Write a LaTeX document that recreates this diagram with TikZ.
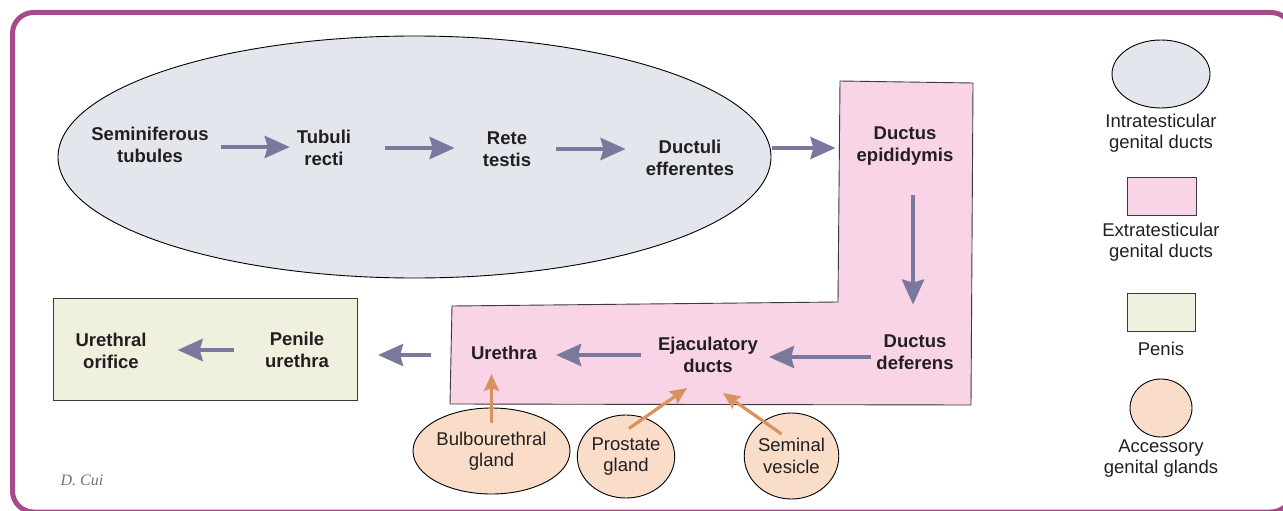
\documentclass[tikz,border=0pt]{standalone}
\usepackage{fontspec}
\setmainfont{Liberation Sans}
\newfontfamily\sigfont{Liberation Serif}
\usetikzlibrary{shapes.geometric,arrows.meta,calc}
\definecolor{framec}{HTML}{A64A8C}
\definecolor{testc}{HTML}{E3E6EC}
\definecolor{pinkc}{HTML}{F8D4E6}
\definecolor{greenc}{HTML}{EFF0DE}
\definecolor{glandc}{HTML}{FADDC9}
\definecolor{flowc}{HTML}{7A789C}
\definecolor{feedc}{HTML}{D8925E}
\definecolor{txt}{HTML}{231F20}
\definecolor{edgec}{HTML}{3A3A3A}
\begin{document}
\begin{tikzpicture}[x=1pt,y=-1pt,
  lbl/.style={font=\fontsize{18.5}{21.5}\selectfont\bfseries, align=center, inner sep=0pt, text=txt},
  leg/.style={font=\fontsize{18.5}{21}\selectfont, align=center, inner sep=0pt, text=txt},
  flow/.style={draw=flowc, line width=4.2pt, -{Stealth[length=25pt,width=22pt,inset=3pt]}},
  feed/.style={draw=feedc, line width=3.2pt, -{Stealth[length=17pt,width=15pt,inset=3pt]}},
  oval/.style={ellipse, draw=black, line width=0.9pt, inner sep=0pt},
  box/.style={rectangle, draw=edgec, line width=1pt, inner sep=0pt},
  gland/.style={ellipse, draw=black, line width=0.9pt, fill=glandc, inner sep=0pt, align=center, text=txt, font=\fontsize{18.5}{21.5}\selectfont}
]
\useasboundingbox (0,0) rectangle (1283,511);
% frame
\draw[framec, line width=5pt, rounded corners=21pt] (12.5,12.5) rectangle (1292,512);

% testis region
\node[oval, fill=testc, minimum width=713pt, minimum height=242pt] (testis) at (414.5,157) {};
% extratesticular L-shape
\draw[fill=pinkc, draw=edgec, line width=0.9pt] (840,81) -- (973,83) -- (971,405) -- (450,404) -- (452,306) -- (838,302) -- cycle;
% penis box
\node[box, fill=greenc, minimum width=304pt, minimum height=102pt] (penis) at (205,349) {};

% labels
\node[lbl] (sem) at (150,145) {Seminiferous\\tubules};
\node[lbl] (tub) at (324,148) {Tubuli\\recti};
\node[lbl] (rete) at (507,149) {Rete\\testis};
\node[lbl] (duct) at (690,158) {Ductuli\\efferentes};
\node[lbl] (epid) at (905,146) {Ductus\\epididymis};
\node[lbl] (def) at (915,352) {Ductus\\deferens};
\node[lbl] (ejac) at (708,355) {Ejaculatory\\ducts};
\node[lbl] (ureth) at (504,353) {Urethra};
\node[lbl] (pen) at (297,350) {Penile\\urethra};
\node[lbl] (orif) at (111,351) {Urethral\\orifice};

% glands
\node[gland, minimum width=157pt, minimum height=86pt] (bulbo) at (491.5,451) {Bulbourethral\\gland};
\node[gland, minimum width=92pt, minimum height=83pt] (prost) at (626,456.5) {Prostate\\gland};
\node[gland, minimum width=91pt, minimum height=86pt] (semv) at (791.5,456) {Seminal\\vesicle};

% main flow arrows
\draw[flow, shorten <=12pt, shorten >=7pt] ([yshift=-2pt]sem.east) -- ([yshift=-2pt]sem.east -| tub.west);
\draw[flow, shorten <=34pt, shorten >=28pt] (tub.east) -- (tub.east -| rete.west);
\draw[flow, shorten <=25pt, shorten >=20pt] (rete.east) -- (rete.east -| duct.west);
\draw[flow, shorten <=38pt, shorten >=21pt] ([yshift=10pt]duct.east) -- ([yshift=10pt]duct.east -| epid.west);
\draw[flow, shorten <=30pt, shorten >=30pt] ([xshift=8pt]epid.south) -- ([xshift=8pt]epid.south |- def.north);
\draw[flow, shorten <=5pt, shorten >=11pt] ([yshift=-5pt]def.west) -- ([yshift=-5pt]def.west -| ejac.east);
\draw[flow, shorten <=17pt, shorten >=19pt] (ejac.west) -- (ejac.west -| ureth.east);
\draw[flow, shorten <=40pt, shorten >=49pt] ([yshift=-2pt]ureth.west) -- ([yshift=-2pt]ureth.west -| pen.east);
\draw[flow, shorten <=31pt, shorten >=31pt] (pen.west) -- (pen.west -| orif.east);

% accessory gland arrows
\draw[feed, shorten >=14pt] ([yshift=28pt]bulbo.center) -- (bulbo.center |- ureth.south);
\draw[feed] ([xshift=3pt,yshift=28pt]prost.center) -- ([xshift=-21pt,yshift=-33pt]ejac.center);
\draw[feed] ([xshift=-10pt,yshift=22pt]semv.center) -- ([xshift=15pt,yshift=-38pt]ejac.center);

% legend
\node[oval, fill=testc, minimum width=98pt, minimum height=68pt] (lg1) at (1161,74) {};
\node[leg] (lt1) at (1161,133) {Intratesticular\\genital ducts};
\node[box, fill=pinkc, minimum width=69pt, minimum height=38pt] (lg2) at (1161.5,196) {};
\node[leg] (lt2) at (1161,242.5) {Extratesticular\\genital ducts};
\node[box, fill=greenc, minimum width=68pt, minimum height=38pt] (lg3) at (1161,312) {};
\node[leg] (lt3) at (1161,349) {Penis};
\node[oval, fill=glandc, minimum width=62pt, minimum height=58pt] (lg4) at (1161,408) {};
\node[leg] (lt4) at (1161,458.5) {Accessory\\genital glands};

% signature
\node[text=black!55, font=\sigfont\itshape\fontsize{16}{16}\selectfont, inner sep=0pt] (sig) at (82,480) {D. Cui};
\end{tikzpicture}
\end{document}
